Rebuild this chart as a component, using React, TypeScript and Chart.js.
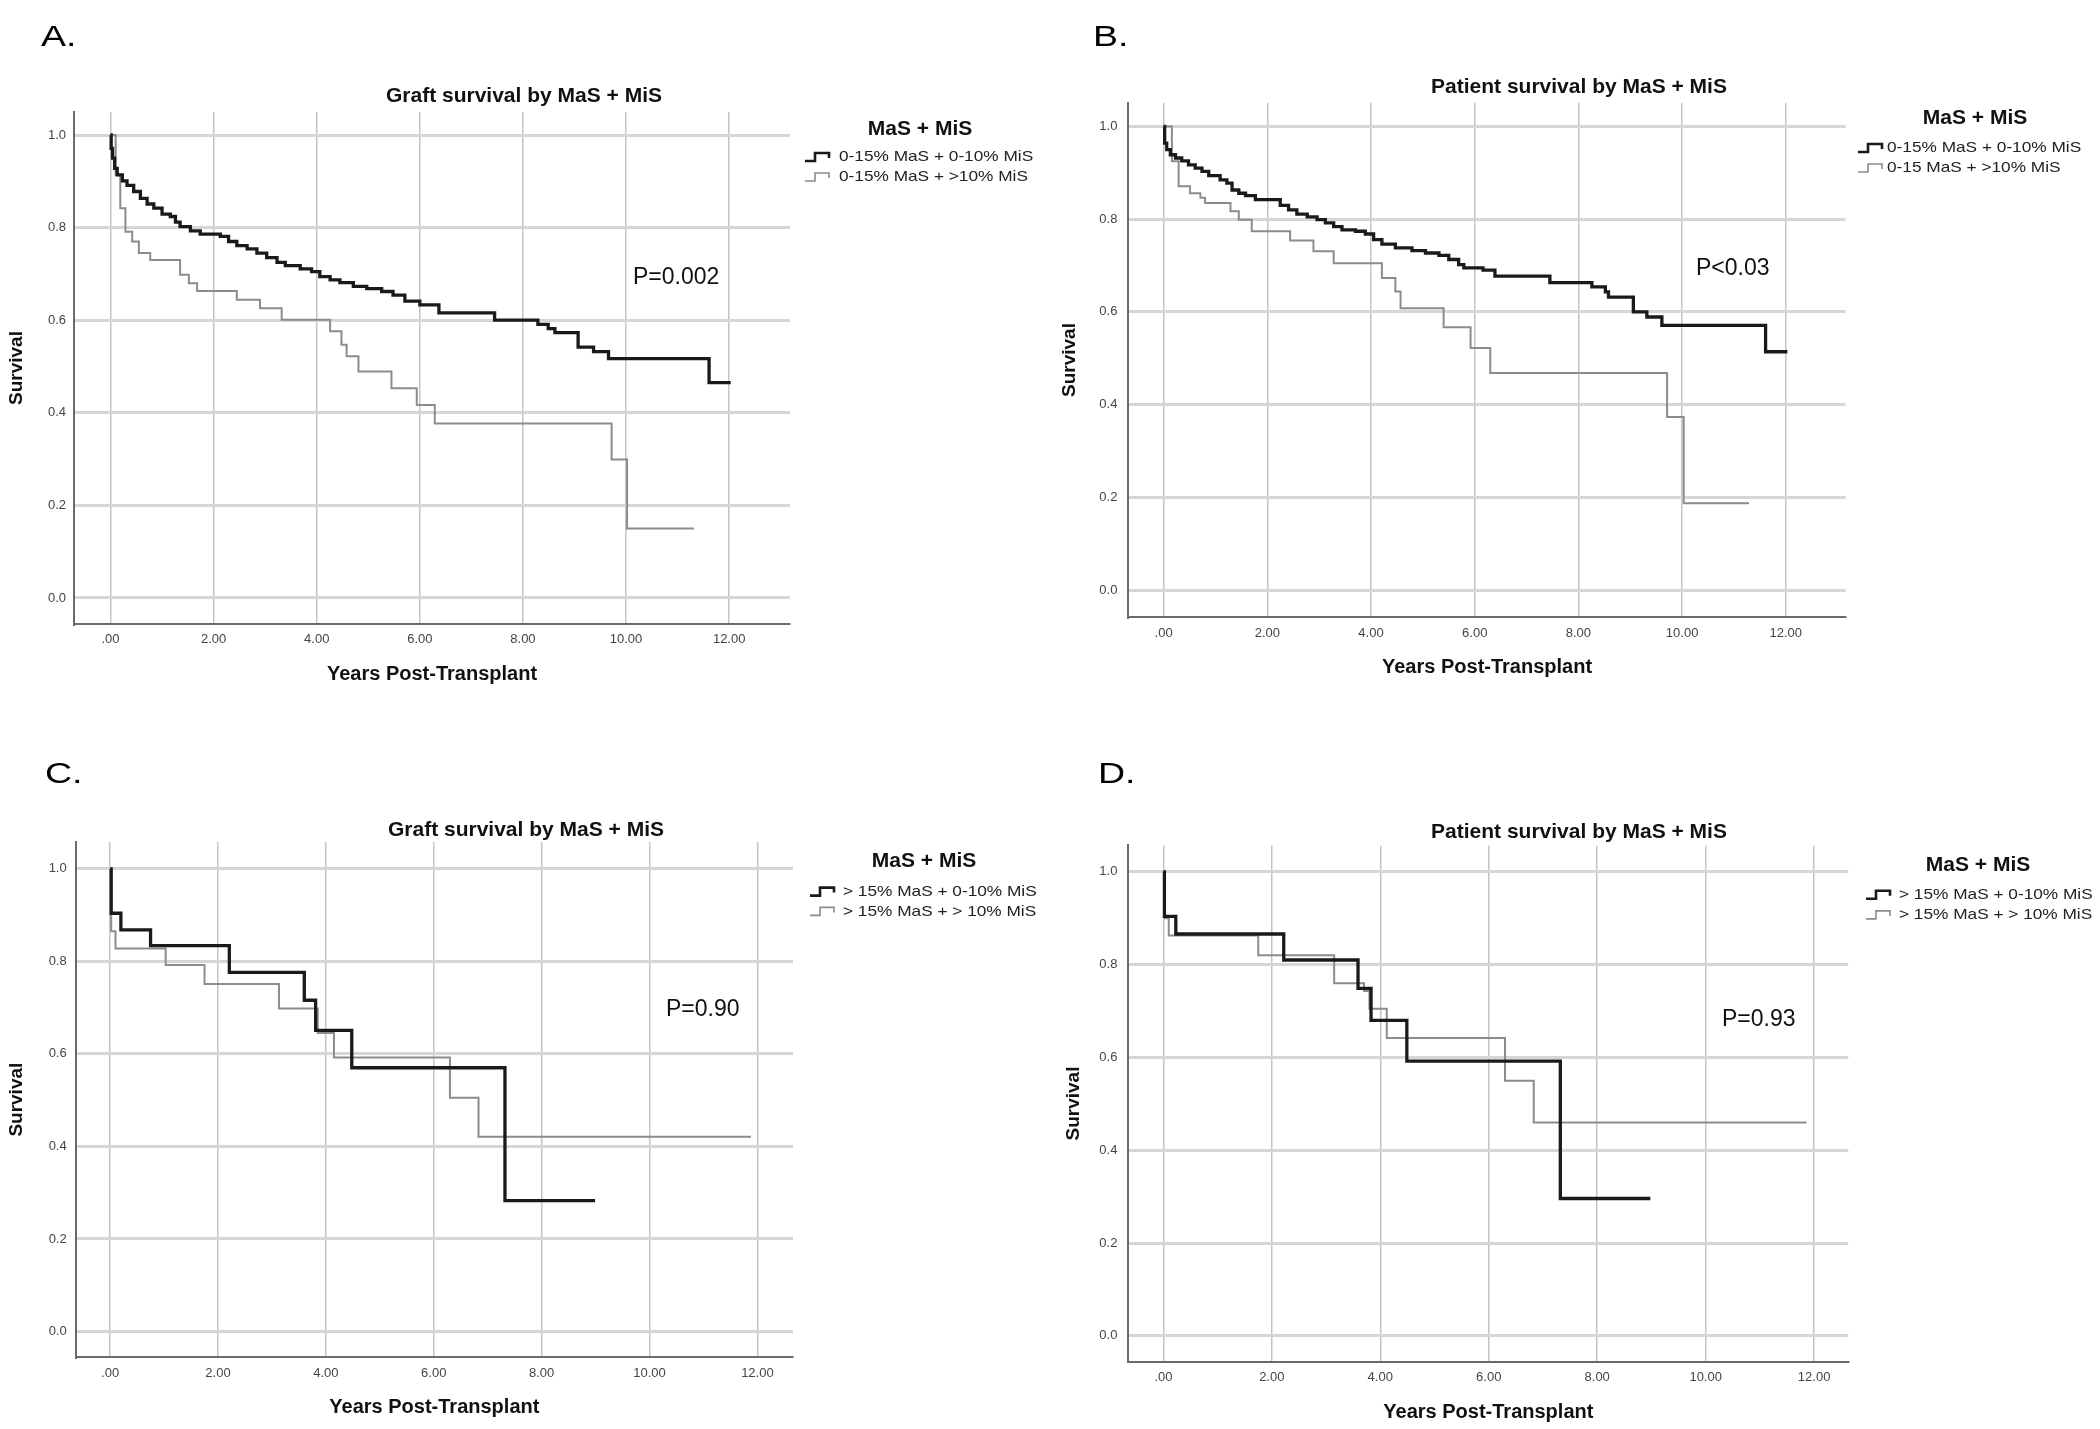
import React, { useEffect, useRef } from 'react';
import { Chart, registerables } from 'chart.js';

Chart.register(...registerables);

// ---------- tick values / labels ----------
const xTickValues = [0, 2, 4, 6, 8, 10, 12];
const xTickLabels = ['.00', '2.00', '4.00', '6.00', '8.00', '10.00', '12.00'];
const yTickValues = [0, 0.2, 0.4, 0.6, 0.8, 1.0];
const yTickLabels = ['0.0', '0.2', '0.4', '0.6', '0.8', '1.0'];

const xAxisTitle = 'Years Post-Transplant';
const yAxisTitle = 'Survival';
const legendTitle = 'MaS + MiS';

// ---------- panel A: graft survival, 0-15% MaS ----------
const graftLowMaSLowMiSYears = [0, 0.013, 0.04, 0.08, 0.13, 0.23, 0.32, 0.45, 0.58, 0.71, 0.84, 1.0, 1.16, 1.26, 1.35, 1.55, 1.74, 2.13, 2.29, 2.45, 2.65, 2.84, 3.03, 3.23, 3.39, 3.68, 3.9, 4.06, 4.26, 4.45, 4.71, 4.97, 5.26, 5.48, 5.71, 6.0, 6.37, 7.45, 8.29, 8.49, 8.62, 9.07, 9.37, 9.66, 11.61, 12.03];
const graftLowMaSLowMiSSurvival = [1.0, 0.971, 0.95, 0.928, 0.914, 0.901, 0.891, 0.878, 0.863, 0.851, 0.842, 0.829, 0.824, 0.812, 0.802, 0.793, 0.786, 0.781, 0.77, 0.761, 0.754, 0.745, 0.735, 0.725, 0.718, 0.711, 0.705, 0.694, 0.687, 0.681, 0.673, 0.668, 0.662, 0.654, 0.641, 0.633, 0.616, 0.6, 0.591, 0.582, 0.573, 0.542, 0.532, 0.517, 0.465, 0.465];
const graftLowMaSHighMiSYears = [0, 0.1, 0.19, 0.29, 0.42, 0.55, 0.77, 1.35, 1.52, 1.68, 2.45, 2.9, 3.32, 4.26, 4.48, 4.58, 4.81, 5.45, 5.94, 6.29, 9.72, 10.02, 11.32];
const graftLowMaSHighMiSSurvival = [1.0, 0.914, 0.842, 0.791, 0.77, 0.745, 0.73, 0.698, 0.68, 0.663, 0.644, 0.626, 0.601, 0.576, 0.547, 0.522, 0.489, 0.453, 0.417, 0.377, 0.299, 0.15, 0.15];

// ---------- panel B: patient survival, 0-15% MaS ----------
const patientLowMaSLowMiSYears = [0, 0.02, 0.06, 0.13, 0.23, 0.35, 0.48, 0.61, 0.74, 0.87, 1.09, 1.22, 1.32, 1.45, 1.58, 1.77, 2.25, 2.41, 2.57, 2.77, 2.96, 3.12, 3.28, 3.44, 3.7, 3.89, 4.05, 4.21, 4.47, 4.79, 5.05, 5.31, 5.5, 5.69, 5.79, 6.16, 6.39, 7.45, 8.26, 8.52, 8.58, 9.06, 9.32, 9.61, 11.61, 12.03];
const patientLowMaSLowMiSSurvival = [1.0, 0.964, 0.95, 0.939, 0.932, 0.926, 0.917, 0.91, 0.903, 0.894, 0.885, 0.878, 0.863, 0.856, 0.851, 0.842, 0.83, 0.82, 0.811, 0.805, 0.799, 0.792, 0.784, 0.777, 0.774, 0.768, 0.756, 0.746, 0.738, 0.732, 0.727, 0.722, 0.713, 0.702, 0.695, 0.69, 0.677, 0.663, 0.654, 0.643, 0.632, 0.6, 0.589, 0.571, 0.514, 0.514];
const patientLowMaSHighMiSYears = [0, 0.16, 0.29, 0.51, 0.71, 0.8, 1.29, 1.45, 1.7, 2.44, 2.89, 3.28, 4.21, 4.47, 4.57, 5.4, 5.92, 6.3, 9.71, 10.03, 11.29];
const patientLowMaSHighMiSSurvival = [1.0, 0.925, 0.871, 0.856, 0.846, 0.835, 0.817, 0.799, 0.774, 0.754, 0.731, 0.705, 0.673, 0.644, 0.608, 0.567, 0.522, 0.468, 0.373, 0.187, 0.187];

// ---------- panel C: graft survival, >15% MaS ----------
const graftHighMaSLowMiSYears = [0, 0.02, 0.2, 0.75, 2.21, 3.6, 3.81, 4.48, 7.32, 8.99];
const graftHighMaSLowMiSSurvival = [1.0, 0.904, 0.868, 0.834, 0.776, 0.716, 0.651, 0.57, 0.283, 0.283];
const graftHighMaSHighMiSYears = [0, 0.02, 0.1, 1.03, 1.75, 3.13, 3.85, 4.15, 6.3, 6.83, 11.88];
const graftHighMaSHighMiSSurvival = [1.0, 0.865, 0.828, 0.792, 0.751, 0.698, 0.645, 0.592, 0.505, 0.421, 0.421];

// ---------- panel D: patient survival, >15% MaS ----------
const patientHighMaSLowMiSYears = [0, 0.02, 0.23, 2.22, 3.59, 3.83, 4.49, 7.32, 8.98];
const patientHighMaSLowMiSSurvival = [1.0, 0.904, 0.866, 0.81, 0.749, 0.68, 0.592, 0.296, 0.296];
const patientHighMaSHighMiSYears = [0, 0.03, 0.1, 1.75, 3.15, 3.7, 3.8, 4.12, 6.3, 6.83, 11.86];
const patientHighMaSHighMiSSurvival = [1.0, 0.9, 0.863, 0.82, 0.76, 0.743, 0.705, 0.642, 0.55, 0.46, 0.46];

const FONT = '"Liberation Sans", Arial, sans-serif';
const BLACK = '#1a1a1a';
const GRAY = '#8c8c8c';

type Panel = {
  ox: number; oy: number; W: number; H: number;
  left: number; right: number; top: number; bottom: number;
  xMin: number; xMax: number; yMin: number; yMax: number;
  yTickPad: number; xTickPad: number; yTitlePad: number; xTitlePad: number;
  letter: string; letterX: number; letterY: number;
  title: string; titleX: number; titleY: number;
  legX: number; legY: number; itemYs: number[]; glyphX: number; textX: number;
  pText: string; pX: number; pY: number;
  labels: string[];
  series: { years: number[]; surv: number[] }[];
};

const panels: Panel[] = [
  {
    ox: 0, oy: 0, W: 1050, H: 720,
    left: 74, right: 790, top: 112, bottom: 624,
    xMin: -0.708, xMax: 13.18, yMin: -0.0562, yMax: 1.0497,
    yTickPad: 8, xTickPad: 7.5, yTitlePad: 5.6, xTitlePad: 34,
    letter: 'A.', letterX: 41, letterY: 38,
    title: 'Graft survival by MaS + MiS', titleX: 524, titleY: 96,
    legX: 920, legY: 129, itemYs: [157, 177], glyphX: 805, textX: 839,
    pText: 'P=0.002', pX: 633, pY: 278,
    labels: ['0-15% MaS + 0-10% MiS', '0-15% MaS + >10% MiS'],
    series: [
      { years: graftLowMaSLowMiSYears, surv: graftLowMaSLowMiSSurvival },
      { years: graftLowMaSHighMiSYears, surv: graftLowMaSHighMiSSurvival },
    ],
  },
  {
    ox: 1050, oy: 0, W: 1050, H: 720,
    left: 78.4, right: 795.7, top: 102.7, bottom: 617.4,
    xMin: -0.679, xMax: 13.155, yMin: -0.0591, yMax: 1.0513,
    yTickPad: 11, xTickPad: 8, yTitlePad: 8.6, xTitlePad: 41,
    letter: 'B.', letterX: 43, letterY: 38,
    title: 'Patient survival by MaS + MiS', titleX: 529, titleY: 87,
    legX: 925, legY: 118, itemYs: [148, 168], glyphX: 808, textX: 837,
    pText: 'P<0.03', pX: 646, pY: 269,
    labels: ['0-15% MaS + 0-10% MiS', '0-15 MaS + >10% MiS'],
    series: [
      { years: patientLowMaSLowMiSYears, surv: patientLowMaSLowMiSSurvival },
      { years: patientLowMaSHighMiSYears, surv: patientLowMaSHighMiSSurvival },
    ],
  },
  {
    ox: 0, oy: 720, W: 1050, H: 709,
    left: 75.7, right: 793, top: 122, bottom: 637.3,
    xMin: -0.638, xMax: 12.66, yMin: -0.0558, yMax: 1.058,
    yTickPad: 9, xTickPad: 8, yTitlePad: 5.6, xTitlePad: 9.2,
    letter: 'C.', letterX: 45, letterY: 55,
    title: 'Graft survival by MaS + MiS', titleX: 526, titleY: 110,
    legX: 924, legY: 141, itemYs: [171.6, 191.4], glyphX: 810, textX: 843,
    pText: 'P=0.90', pX: 666, pY: 290,
    labels: ['> 15% MaS + 0-10% MiS', '> 15% MaS + > 10% MiS'],
    series: [
      { years: graftHighMaSLowMiSYears, surv: graftHighMaSLowMiSSurvival },
      { years: graftHighMaSHighMiSYears, surv: graftHighMaSHighMiSSurvival },
    ],
  },
  {
    ox: 1050, oy: 720, W: 1050, H: 709,
    left: 78.4, right: 798.3, top: 125.4, bottom: 641.7,
    xMin: -0.644, xMax: 12.63, yMin: -0.0558, yMax: 1.057,
    yTickPad: 11, xTickPad: 8, yTitlePad: 12, xTitlePad: 4.8,
    letter: 'D.', letterX: 48, letterY: 55,
    title: 'Patient survival by MaS + MiS', titleX: 529, titleY: 112,
    legX: 928, legY: 145, itemYs: [174.7, 194.9], glyphX: 816, textX: 849,
    pText: 'P=0.93', pX: 672, pY: 300,
    labels: ['> 15% MaS + 0-10% MiS', '> 15% MaS + > 10% MiS'],
    series: [
      { years: patientHighMaSLowMiSYears, surv: patientHighMaSLowMiSSurvival },
      { years: patientHighMaSHighMiSYears, surv: patientHighMaSHighMiSSurvival },
    ],
  },
];

const colors = [BLACK, GRAY];
const widths = [3.3, 2];

function scaledText(ctx: CanvasRenderingContext2D, text: string, x: number, y: number, sx: number) {
  ctx.save();
  ctx.translate(x, y);
  ctx.scale(sx, 1);
  ctx.fillText(text, 0, 0);
  ctx.restore();
}

function makeOverlay(p: Panel, idx: number) {
  return {
    id: 'overlay' + idx,
    afterDraw(chart: any) {
      const ctx = chart.ctx as CanvasRenderingContext2D;
      ctx.save();
      ctx.textBaseline = 'middle';
      ctx.fillStyle = '#000';
      ctx.textAlign = 'left';
      ctx.font = `30px ${FONT}`;
      scaledText(ctx, p.letter, p.letterX, p.letterY, 1.25);
      ctx.textAlign = 'center';
      ctx.font = `bold 21px ${FONT}`;
      ctx.fillStyle = '#111';
      ctx.fillText(p.title, p.titleX, p.titleY);
      ctx.font = `bold 21px ${FONT}`;
      ctx.fillText(legendTitle, p.legX, p.legY);
      ctx.textAlign = 'left';
      ctx.font = `15px ${FONT}`;
      p.labels.forEach((lab, i) => {
        const y = p.itemYs[i];
        const gx = p.glyphX;
        ctx.beginPath();
        ctx.strokeStyle = colors[i];
        ctx.lineWidth = i === 0 ? 2.6 : 1.6;
        ctx.moveTo(gx, y + 4);
        ctx.lineTo(gx + 10, y + 4);
        ctx.lineTo(gx + 10, y - 4);
        ctx.lineTo(gx + 24, y - 4);
        ctx.lineTo(gx + 24, y + 1);
        ctx.stroke();
        ctx.fillStyle = '#222';
        scaledText(ctx, lab, p.textX, y, 1.15);
      });
      ctx.font = `23px ${FONT}`;
      ctx.fillStyle = '#111';
      ctx.fillText(p.pText, p.pX, p.pY);
      ctx.restore();
    },
  };
}

function buildChart(canvas: HTMLCanvasElement, p: Panel, idx: number) {
  const datasets = p.series.map((s, i) => ({
    label: p.labels[i],
    data: s.years.map((x, j) => ({ x, y: s.surv[j] })),
    borderColor: colors[i],
    borderWidth: widths[i],
    stepped: 'before' as const,
    pointRadius: 0,
    fill: false,
    tension: 0,
  }));
  return new Chart(canvas, {
    type: 'line',
    data: { datasets },
    options: {
      animation: false,
      responsive: false,
      events: [],
      layout: { padding: { left: 0, top: p.top, right: p.W - p.right, bottom: 0 } },
      plugins: {
        legend: { display: false },
        title: { display: false },
        tooltip: { enabled: false },
      },
      scales: {
        x: {
          type: 'linear',
          min: p.xMin,
          max: p.xMax,
          afterBuildTicks: (s: any) => { s.ticks = xTickValues.map((v) => ({ value: v })); },
          afterFit: (s: any) => { s.height = p.H - p.bottom; },
          grid: { color: '#c4c4c4', lineWidth: 1.5, drawTicks: false },
          border: { display: true, color: '#6a6a6a', width: 2 },
          ticks: {
            padding: p.xTickPad,
            autoSkip: false,
            maxRotation: 0,
            color: '#444',
            font: { family: FONT, size: 13 },
            callback: (_v: any, i: number) => xTickLabels[i],
          },
          title: {
            display: true,
            text: xAxisTitle,
            color: '#111',
            font: { family: FONT, size: 20, weight: 'bold' },
            padding: { top: 0, bottom: p.xTitlePad },
          },
        },
        y: {
          type: 'linear',
          min: p.yMin,
          max: p.yMax,
          afterBuildTicks: (s: any) => { s.ticks = yTickValues.map((v) => ({ value: v })); },
          afterFit: (s: any) => { s.width = p.left; },
          grid: { color: '#d6d6d6', lineWidth: 3, drawTicks: false },
          border: { display: true, color: '#6a6a6a', width: 2 },
          ticks: {
            padding: p.yTickPad,
            autoSkip: false,
            color: '#444',
            font: { family: FONT, size: 13 },
            callback: (_v: any, i: number) => yTickLabels[i],
          },
          title: {
            display: true,
            text: yAxisTitle,
            color: '#111',
            font: { family: FONT, size: 19, weight: 'bold' },
            padding: { top: p.yTitlePad, bottom: 0 },
          },
        },
      },
    } as any,
    plugins: [makeOverlay(p, idx)],
  });
}

export default function App() {
  const refs = useRef<(HTMLCanvasElement | null)[]>([]);
  useEffect(() => {
    const charts = panels.map((p, i) => buildChart(refs.current[i] as HTMLCanvasElement, p, i));
    return () => charts.forEach((c) => c.destroy());
  }, []);
  return (
    <div style={{ position: 'absolute', left: 0, top: 0, width: 2100, height: 1429, background: '#fff' }}>
      {panels.map((p, i) => (
        <canvas
          key={i}
          ref={(el) => { refs.current[i] = el; }}
          width={p.W}
          height={p.H}
          style={{ position: 'absolute', left: p.ox, top: p.oy, width: p.W, height: p.H }}
        />
      ))}
    </div>
  );
}
